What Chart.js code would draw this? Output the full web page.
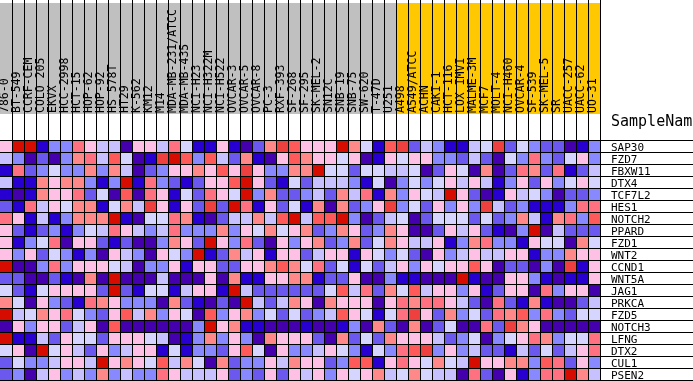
<!DOCTYPE html>
<html>
<head>
<meta charset="utf-8">
<script src="https://cdn.jsdelivr.net/npm/chart.js@4.4.1/dist/chart.umd.min.js"></script>
<style>
  html, body { margin: 0; padding: 0; background: #fff; overflow: hidden; }
</style>
</head>
<body>
<canvas id="heat" width="693" height="381"></canvas>
<script>
// cell lines, in column order
const samples = [
  "786-0", "BT-549", "CCRF-CEM", "COLO 205", "EKVX", "HCC-2998", "HCT-15", "HOP-62",
  "HOP-92", "HS 578T", "HT29", "K-562", "KM12", "M14", "MDA-MB-231/ATCC", "MDA-MB-435",
  "NCI-H23", "NCI-H322M", "NCI-H522", "OVCAR-3", "OVCAR-5", "OVCAR-8", "PC-3", "RXF-393",
  "SF-268", "SF-295", "SK-MEL-2", "SN12C", "SNB-19", "SNB-75", "SW-620", "T-47D", "U251",
  "A498", "A549/ATCC", "ACHN", "CAKI-1", "HCT-116", "LOX IMVI", "MALME-3M", "MCF7",
  "MOLT-4", "NCI-H460", "OVCAR-4", "SF-539", "SK-MEL-5", "SR", "UACC-257", "UACC-62", "UO-31"
];

// second group (yellow header)
const groupB = [
  "A498", "A549/ATCC", "ACHN", "CAKI-1", "HCT-116", "LOX IMVI", "MALME-3M", "MCF7",
  "MOLT-4", "NCI-H460", "OVCAR-4", "SF-539", "SK-MEL-5", "SR", "UACC-257", "UACC-62", "UO-31"
];

const genes = [
  "SAP30", "FZD7", "FBXW11", "DTX4", "TCF7L2", "HES1", "NOTCH2", "PPARD", "FZD1", "WNT2",
  "CCND1", "WNT5A", "JAG1", "PRKCA", "FZD5", "NOTCH3", "LFNG", "DTX2", "CUL1", "PSEN2"
];

// expression level per sample, -6 (lowest) .. +6 (highest)
const sap30  = [1,6,6,-5,-3,-3,3,1,-2,-2,-6,1,1,-2,3,-1,-5, -5,1,-5,-6,-4,2,5,4,1,1,1,6,2,-1,-5,4, 5,-4,-2,-3,-5,-5,-2,-1,5,-4,-1,-3,-4,-4,-6,-5,-3];
const fzd7   = [-2,-3,-6,-4,-6,-3,2,3,-2,4,-1,-6,-5,5,6,4,-3, 4,-2,-4,2,-5,-6,1,4,2,1,1,-1,1,-6,-5,1, -1,1,1,-3,-3,-4,-2,-4,-6,-1,-3,3,-3,-4,-1,1,-3];
const fbxw11 = [-5,3,-4,-3,-1,-3,-3,2,-3,2,-2,-6,-4,-3,1,1,2, 1,4,1,5,1,-3,-3,2,2,6,-1,-1,-4,-1,-1,-2, -2,-1,-6,-4,1,-1,-6,2,-6,-4,3,2,-4,3,-5,-4,-2];
const dtx4   = [-2,-5,-5,2,1,2,2,-3,-5,-3,6,-5,3,-3,-4,-5,-4, 1,1,4,6,1,-4,-5,-1,-4,-2,-2,-2,-3,-5,-1,-6, -3,-1,-3,-1,1,-2,1,-2,-5,-3,1,-4,1,-3,-1,1,-1];
const tcf7l2 = [-5,-6,-5,2,1,1,3,-4,-1,-6,4,-6,3,1,-5,-1,-4, 3,1,-1,6,-3,2,-4,-4,-3,-2,-4,2,-2,3,-5,2, -3,1,-1,-2,6,1,-4,-6,-5,1,-2,-1,-3,-6,-4,-4,-3];
const hes1   = [-4,-5,3,-2,1,-1,2,2,-5,-1,2,-2,5,1,-5,1,-4, 5,-4,6,3,-5,1,-4,-1,-5,2,-6,2,-4,-3,1,5, -3,-1,-4,1,-3,1,-3,5,-2,-4,-3,-5,-5,-5,-3,3,3];
const notch2 = [3,1,-5,-2,-5,-3,2,2,2,6,-5,-6,-1,-1,3,2,-5, -6,-4,-2,-2,2,-2,4,6,-2,4,4,6,-3,-6,-4,-2, -1,-6,-4,-1,-1,-1,-4,-1,-4,-3,2,-2,-5,2,3,-3,4];
const ppard  = [1,-4,-5,-4,-3,-5,-3,-1,-2,3,1,-2,-3,-2,3,-3,-3, -3,2,-3,1,-1,2,-1,1,2,-4,-3,2,1,-4,-3,2, 1,-6,-6,-4,1,-2,1,-4,-5,-6,-3,6,-6,-2,-4,-4,-4];
const fzd1   = [1,-5,-3,-1,3,-6,1,1,-4,-5,-4,-6,-6,-3,2,1,-4, 6,1,-3,3,-4,-6,1,-3,1,2,-4,-3,2,-4,-1,2, 1,-2,-2,1,-5,-3,2,3,-3,-3,-5,1,-1,-1,-6,2,-1];
const wnt2   = [1,-3,1,-4,-1,-3,-5,-3,-6,1,-2,-3,-6,1,-1,-3,6, -5,-4,2,-2,1,-5,1,1,-4,-2,1,1,-5,1,-1,-3, -1,-4,-6,1,-3,-2,1,-2,-2,1,1,-5,-3,-3,2,1,1];
const ccnd1  = [6,-6,-6,-3,3,-3,1,1,1,-1,-2,-6,-3,-3,1,-5,1, 1,-4,-4,1,1,2,4,2,-1,3,-4,-1,-5,-1,-4,-2, 1,-3,1,-1,1,1,4,1,-6,-4,-4,-6,-3,-6,5,-5,1];
const wnt5a  = [-4,-4,-6,-6,-4,-5,-6,2,-6,6,-6,-6,-6,-2,-6,-6,-6, 1,-6,2,-5,-5,1,1,2,2,-5,-4,-4,1,-6,-6,-3, -5,-5,-6,-6,-6,6,-5,-6,-6,1,1,-3,-5,-6,-5,-5,1];
const jag1   = [-1,-4,-5,-1,1,1,1,1,-4,6,-4,-5,-1,-1,-5,-2,1, 1,-5,6,-2,-4,-4,-4,-4,-4,-4,-1,4,-2,3,-4,2, -1,4,-2,1,1,-3,1,-5,-4,1,1,-6,3,-3,1,1,-6];
const prkca  = [2,-1,-6,1,-3,-4,-5,3,2,1,-3,-3,-3,-6,2,-4,-5, -6,-4,-6,6,-2,-4,-2,2,1,-6,2,1,1,1,-6,1, 3,2,3,3,1,-2,-4,-6,3,-4,-5,2,-5,-6,-6,-4,-2];
const fzd5   = [6,-2,-1,2,1,3,-1,-3,-4,1,4,-2,2,-3,1,-1,-6, 4,-3,1,2,-3,-1,-4,-1,-4,-3,-2,4,1,-1,-5,-1, 3,5,1,-4,2,-3,-1,-4,3,2,4,-3,3,-3,-4,-1,-1];
const notch3 = [-6,1,-3,1,1,-4,-2,1,-6,4,-6,-6,-6,-6,-6,-6,-3, 6,1,2,-5,-5,-6,-6,-6,-5,-6,-6,-5,-3,-6,2,-4, -6,2,-6,-4,-1,-6,-6,3,-4,5,2,1,-6,-6,-6,-6,-6];
const lfng   = [6,-5,-5,-2,-4,1,-1,-1,-4,1,1,1,-1,-2,-6,-5,-3, 2,-3,1,-3,-6,2,1,1,1,-4,-6,2,-4,-1,-4,2, 1,1,1,-2,-4,-3,-1,-6,-3,-1,1,3,2,-3,-1,-1,3];
const dtx2   = [-1,1,-6,6,-1,1,-2,-4,1,-3,-2,1,1,-5,-1,-5,-3, -3,-4,1,4,-1,-6,1,-3,-3,-2,1,-1,-3,-5,-1,-3, 3,4,5,-3,1,-3,-2,-4,-4,-5,-2,-4,-1,-4,-2,1,3];
const cul1   = [-4,-1,-3,-3,-2,1,1,-2,6,1,2,1,-1,4,-2,2,-1, -6,2,-4,-3,-3,1,-2,2,1,1,-4,-3,4,4,-5,1, 3,1,-1,2,-1,-2,6,1,1,2,2,-3,4,3,-4,1,-3];
const psen2  = [-4,-3,-6,-2,1,-3,-2,-3,2,-3,-2,-3,-3,3,1,-2,-2, -2,1,-4,-3,-4,1,-4,1,-2,1,-3,1,-1,1,2,-2, -1,2,-1,-2,-2,-6,3,-4,-6,1,-5,-3,3,3,6,2,-2];

const rows = [sap30, fzd7, fbxw11, dtx4, tcf7l2, hes1, notch2, ppard, fzd1, wnt2,
              ccnd1, wnt5a, jag1, prkca, fzd5, notch3, lfng, dtx2, cul1, psen2];

// blue -> red ramp, one colour per level
const palette = ["#4500AD", "#2700D1", "#6B58EF", "#8888FF", "#C7C1FF", "#D5D5FF",
                 "#FFC0E5", "#FF8989", "#FF7080", "#FF5A5A", "#EF4040", "#D60C00"];

function colourFor(v) {
  if (v === undefined) return "#ffffff";
  return palette[v < 0 ? v + 6 : v + 5];
}

const cells = [];
genes.forEach((g, r) => {
  rows[r].forEach((v, c) => {
    cells.push({ x: samples[c], y: g, v: v });
  });
});

const monoFont = "DejaVu Sans Mono";

// header backgrounds and the SampleName caption
const headerPlugin = {
  id: "header",
  beforeDraw(chart) {
    const ctx = chart.ctx;
    const x = chart.scales.x;
    const half = (x.getPixelForValue(1) - x.getPixelForValue(0)) / 2;
    ctx.save();
    ctx.fillStyle = "#ffffff";
    ctx.fillRect(0, 0, chart.width, chart.height);
    samples.forEach((name, i) => {
      const cx = x.getPixelForValue(i);
      ctx.fillStyle = groupB.includes(name) ? "#FFC800" : "#C0C0C0";
      ctx.fillRect(cx - half, 3, half * 2, 111);
    });
    ctx.fillStyle = "#000";
    ctx.font = "15px " + monoFont;
    ctx.textBaseline = "middle";
    ctx.textAlign = "left";
    ctx.fillText("SampleName", 611, 122);
    ctx.restore();
  }
};

const lineColour = (c) => (c.index === 0 ? "rgba(0,0,0,0)" : "#000");

new Chart(document.getElementById("heat"), {
  type: "scatter",
  data: {
    datasets: [{
      data: cells,
      pointStyle: "rect",
      pointRadius: 6 * Math.SQRT2,
      pointBorderWidth: 0,
      backgroundColor: (c) => colourFor(c.raw ? c.raw.v : undefined)
    }]
  },
  options: {
    responsive: false,
    animation: false,
    events: [],
    devicePixelRatio: 1,
    layout: { padding: { bottom: 1 }, autoPadding: false },
    plugins: {
      legend: { display: false },
      tooltip: { enabled: false }
    },
    scales: {
      x: {
        type: "category",
        labels: samples,
        position: "top",
        offset: true,
        grid: {
          z: 1,
          offset: true,
          color: lineColour,
          tickColor: lineColour,
          lineWidth: 1,
          drawTicks: true,
          tickLength: 140
        },
        border: { display: true, color: "#000", z: 1 },
        ticks: {
          z: 2,
          autoSkip: false,
          minRotation: 90,
          maxRotation: 90,
          padding: -113,
          labelOffset: 13,
          color: "#000",
          font: { family: monoFont, size: 11.5 }
        },
        afterFit(s) {
          s.height = 140;
          s.paddingLeft = 0;
          s.paddingRight = 0;
        }
      },
      y: {
        type: "category",
        labels: genes,
        position: "right",
        offset: true,
        grid: {
          z: 1,
          offset: true,
          color: "#000",
          tickColor: "#000",
          lineWidth: 1,
          drawTicks: true,
          tickLength: 93
        },
        border: { display: true, color: "#000", z: 1 },
        ticks: {
          z: 2,
          autoSkip: false,
          crossAlign: "near",
          padding: -82,
          labelOffset: 2,
          color: "#000",
          font: { family: monoFont, size: 11 }
        },
        afterFit(s) {
          s.width = 93;
          s.paddingTop = 0;
          s.paddingBottom = 0;
        }
      }
    }
  },
  plugins: [headerPlugin]
});
</script>
</body>
</html>
